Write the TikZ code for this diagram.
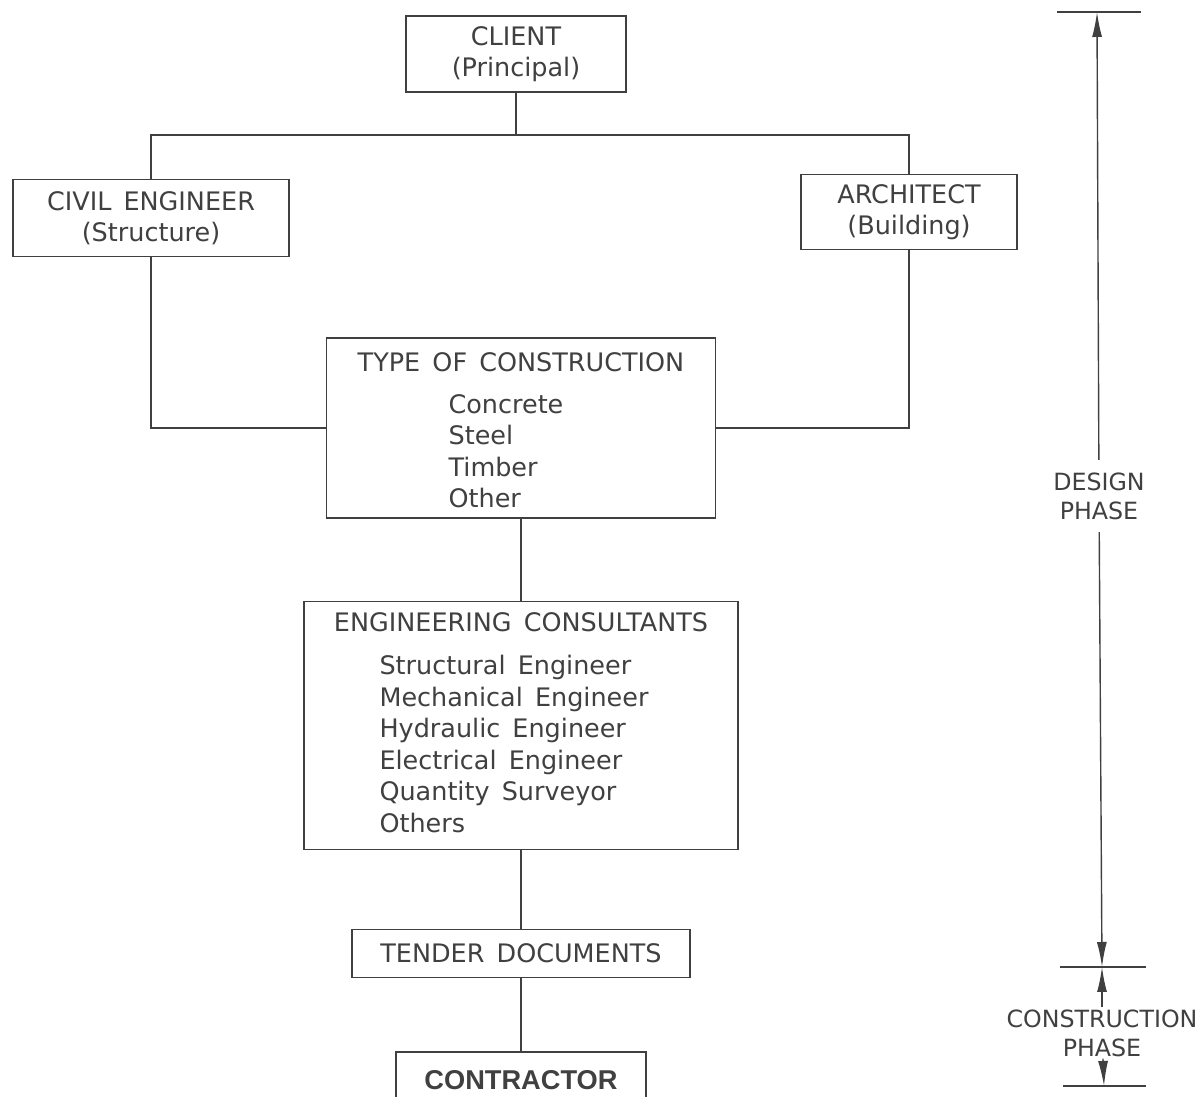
\documentclass[tikz,border=0pt]{standalone}
\usepackage{fontspec}
\setmainfont{DejaVu Sans}[WordSpace=1.5]
\newfontfamily\contrfont{Liberation Sans}
\usetikzlibrary{arrows.meta, positioning}
\definecolor{ink}{gray}{0.25}

\begin{document}
\begin{tikzpicture}[
  x=0.02cm, y=-0.02cm,
  every node/.style={text=ink},
  box/.style={draw=ink, line width=0.8pt, align=center, inner sep=3pt,
    font=\fontsize{14.5}{17.9}\selectfont},
  link/.style={draw=ink, line width=0.8pt},
  phase/.style={align=center, font=\fontsize{13.5}{16.5}\selectfont},
  dimarr/.style={draw=ink, line width=0.8pt, -{Latex[length=5mm, width=2mm]}}
]
\useasboundingbox (0,0) rectangle (1204,1097);
\clip (0,0) rectangle (1204,1097);

% organisation chart
\node[box, minimum width=4.4cm, minimum height=1.52cm] (client) at (516,54) {CLIENT\\(Principal)};
\node[box, minimum width=5.52cm, minimum height=1.54cm] (civil) at (151,218) {CIVIL ENGINEER\\(Structure)};
\node[box, minimum width=4.32cm, minimum height=1.5cm] (arch) at (909,212) {ARCHITECT\\(Building)};
\node[box, minimum width=7.78cm, minimum height=3.6cm] (toc) at (521,428)
  {TYPE OF CONSTRUCTION\\[10pt]
   \begin{tabular}{@{}l@{\hspace{0.6cm}}}Concrete\\Steel\\Timber\\Other\\[-8pt]\end{tabular}};
\node[box, minimum width=8.68cm, minimum height=4.96cm, below=1.64cm of toc] (cons)
  {ENGINEERING CONSULTANTS\\[11pt]
   \begin{tabular}{@{}l@{\hspace{0.28cm}}}Structural Engineer\\Mechanical Engineer\\Hydraulic Engineer\\
   Electrical Engineer\\Quantity Surveyor\\Others\\[-2pt]\end{tabular}};
\node[box, minimum width=6.76cm, minimum height=0.96cm, below=1.58cm of cons] (tender) {TENDER DOCUMENTS};
\node[box, minimum width=5cm, minimum height=1.12cm, below=1.46cm of tender,
  font=\contrfont\bfseries\fontsize{15.5}{18}\selectfont] (contractor) {CONTRACTOR};

\coordinate (bus) at (516,135);
\draw[link] (client) -- (bus);
\draw[link] (civil.north) |- (bus) -| (arch.north);
\draw[link] (civil.south) |- (toc.west);
\draw[link] (arch.south) |- (toc.east);
\draw[link] (toc) -- (cons);
\draw[link] (cons) -- (tender);
\draw[link] (tender) -- (contractor);

% phases
\coordinate (topT) at (1097,12);
\coordinate (midT) at (1102,967);
\coordinate (botT) at (1104,1086);
\draw[link] (topT) ++(-40,0) -- ++(84,0);
\draw[link] (midT) ++(-42,0) -- ++(86,0);
\draw[link] (botT) ++(-41,0) -- ++(83,0);

\node[phase, inner sep=7pt] (design) at (1099,496) {DESIGN\\PHASE};
\node[phase, inner sep=1pt] (construct) at (1102,1033) {CONSTRUCTION\\PHASE};

\draw[dimarr] (design) -- (topT);
\draw[dimarr] (design) -- (midT);
\draw[dimarr] (construct) -- (midT);
\draw[dimarr] (construct) -- (botT);
\end{tikzpicture}
\end{document}
